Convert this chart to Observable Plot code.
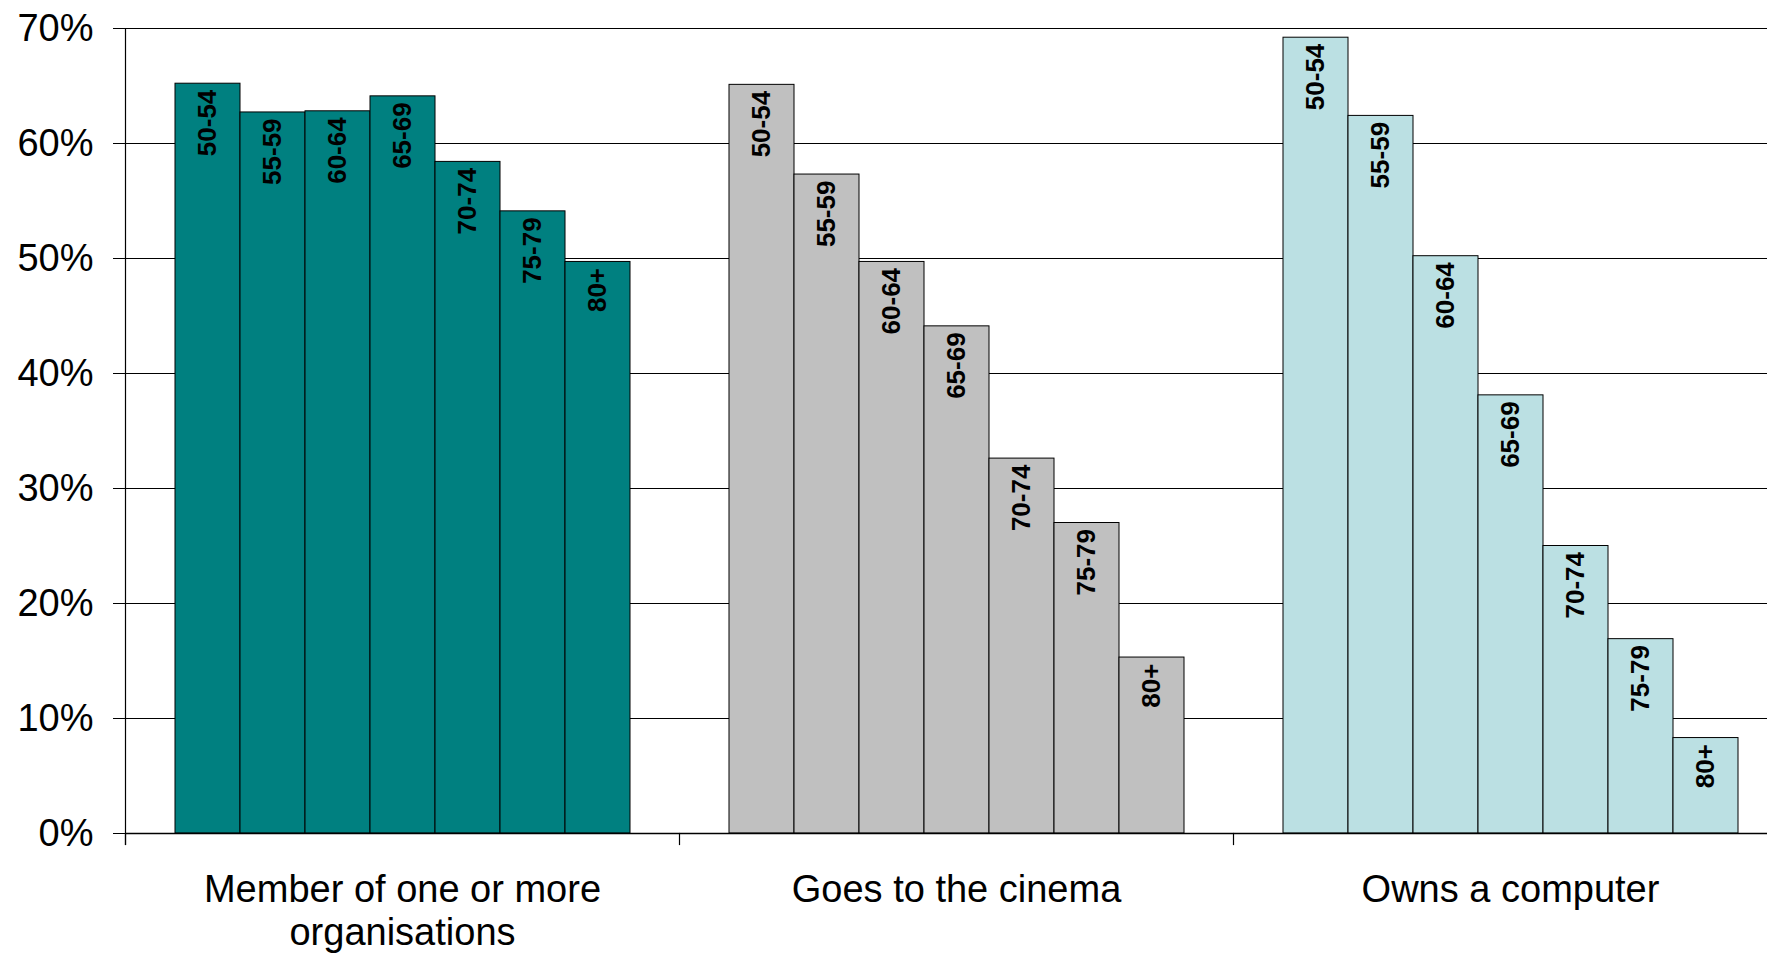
<!DOCTYPE html>
<html>
<head>
<meta charset="utf-8">
<script src="https://cdn.jsdelivr.net/npm/d3@7"></script>
<script src="https://cdn.jsdelivr.net/npm/@observablehq/plot@0.6"></script>
<style>
  html, body { margin: 0; padding: 0; background: #fff; overflow: hidden; }
</style>
</head>
<body>
<div id="chart"></div>
<script>
// Activity categories and their two-line axis labels
const groups = ["Member of one or more organisations", "Goes to the cinema", "Owns a computer"];
const groupLabels = ["Member of one or more\norganisations", "Goes to the cinema", "Owns a computer"];

// Age bands shown inside each category
const ageBands = ["50-54", "55-59", "60-64", "65-69", "70-74", "75-79", "80+"];

// Share of people (%) by age band
const memberValues   = [65.2, 62.7, 62.8, 64.1, 58.4, 54.1, 49.7];
const cinemaValues   = [65.1, 57.3, 49.7, 44.1, 32.6, 27.0, 15.3];
const computerValues = [69.2, 62.4, 50.2, 38.1, 25.0, 16.9, 8.3];

// One fill per category
const groupColors = ["#008080", "#C0C0C0", "#BBE0E3"];

// Percentage ticks on the value axis
const yTicks = [0, 10, 20, 30, 40, 50, 60, 70];

const series = [memberValues, cinemaValues, computerValues];
const data = groups.flatMap((g, i) =>
  ageBands.map((a, j) => ({group: g, age: a, value: series[i][j]}))
);

const font = "'Liberation Sans', Arial, Helvetica, sans-serif";

const chart = Plot.plot({
  width: 1788,
  height: 957,
  marginLeft: 124,
  marginRight: 0,
  marginTop: 28,
  marginBottom: 124,
  style: {fontFamily: font, background: "#fff", color: "#000", maxWidth: "none", overflow: "visible"},
  fx: {domain: groups, padding: 0, axis: null},
  x: {domain: ageBands, paddingInner: 0, paddingOuter: 0.76, axis: null},
  y: {domain: [0, 70], axis: null},
  color: {domain: groups, range: groupColors},
  marks: [
    // horizontal gridlines
    Plot.ruleY(yTicks.slice(1), {stroke: "#000", strokeWidth: 1.1}),
    // bars per age band
    Plot.barY(data, {fx: "group", x: "age", y: "value", fill: "group", stroke: "#000", strokeWidth: 1}),
    // rotated age-band labels just under each bar top
    Plot.text(data, {
      fx: "group", x: "age", y: "value", text: "age",
      rotate: -90, textAnchor: "end", dy: 6,
      fontSize: 26, fontWeight: "bold", fill: "#000"
    }),
    // baseline
    Plot.ruleY([0], {stroke: "#000", strokeWidth: 1.5}),
    // value axis line (leftmost panel only)
    Plot.frame({anchor: "left", facetAnchor: "left", insetBottom: -11, stroke: "#000", strokeWidth: 1.2}),
    // category separator ticks below the baseline
    Plot.frame({anchor: "left", insetTop: 805, insetBottom: -11, stroke: "#000", strokeWidth: 1.2}),
    Plot.axisY({
      ticks: yTicks, tickFormat: d => `${d}%`,
      tickSize: 12, tickPadding: 20, fontSize: 38, label: null
    }),
    Plot.axisFx({
      anchor: "bottom", tickSize: 0, tickPadding: 38, fontSize: 38, lineHeight: 1.13,
      tickFormat: d => groupLabels[groups.indexOf(d)], label: null
    })
  ]
});

document.getElementById("chart").appendChild(chart);
</script>
</body>
</html>
